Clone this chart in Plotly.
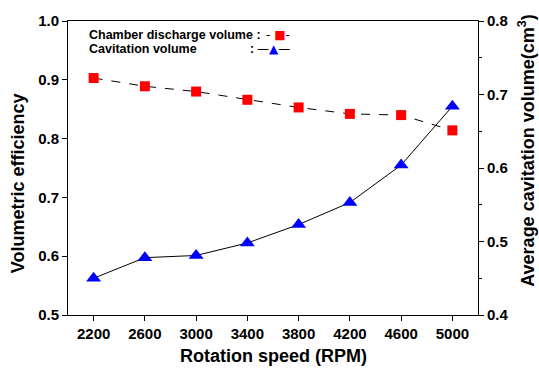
import plotly.graph_objects as go

rpm = [2200, 2600, 3000, 3400, 3800, 4200, 4600, 5000]
vol_eff = [0.903, 0.889, 0.880, 0.866, 0.853, 0.842, 0.840, 0.814]
cav_vol = [0.450, 0.478, 0.481, 0.498, 0.523, 0.553, 0.604, 0.684]
x_ticks = rpm

FONT = "Liberation Sans, Arial, sans-serif"

fig = go.Figure()
fig.add_trace(go.Scatter(
    x=rpm, y=vol_eff, mode="lines+markers", name="Chamber discharge volume",
    line=dict(color="black", width=1, dash="dash"),
    marker=dict(symbol="square", size=10, color="#ff0000", line=dict(width=0)),
    yaxis="y"))
fig.add_trace(go.Scatter(
    x=rpm, y=cav_vol, mode="lines+markers", name="Cavitation volume",
    line=dict(color="black", width=1),
    marker=dict(symbol="triangle-up", size=13, color="#0000ff", line=dict(width=0)),
    yaxis="y2"))

axis_common = dict(showgrid=False, zeroline=False, showline=True, linecolor="black",
                   linewidth=1, ticks="outside", ticklen=5, tickcolor="black",
                   tickfont=dict(family=FONT, size=15, color="black", weight="bold"))

fig.update_layout(
    width=539, height=369,
    margin=dict(l=68, r=61, t=16, b=54),
    plot_bgcolor="white", paper_bgcolor="white",
    showlegend=False,
    font=dict(family=FONT, color="black"),
    xaxis=dict(range=[2000, 5200], tickvals=x_ticks, mirror=True, **axis_common),
    yaxis=dict(range=[0.5, 1.0], dtick=0.1, tickformat=".1f", **axis_common),
    yaxis2=dict(range=[0.4, 0.8], dtick=0.1, tickformat=".1f", overlaying="y", side="right",
                minor=dict(dtick=0.05, ticks="outside", ticklen=3, tickcolor="black"),
                **axis_common),
)

title_font = dict(family=FONT, size=18, color="black")
fig.add_annotation(xref="paper", yref="paper", x=0.5, y=-0.140, xanchor="center", yanchor="middle",
                   text="<b>Rotation speed (RPM)</b>", showarrow=False, font=title_font)
fig.add_annotation(xref="paper", yref="paper", x=-0.122, y=0.448, xanchor="center", yanchor="middle",
                   textangle=-90, text="<b>Volumetric efficiency</b>", showarrow=False, font=title_font)
fig.add_annotation(xref="paper", yref="paper", x=1.118, y=0.56, xanchor="center", yanchor="middle",
                   textangle=-90, text="<b>Average cavitation volume(cm<sup>3</sup>)</b>",
                   showarrow=False, font=title_font)

lab_font = dict(family=FONT, size=12.5, color="black")
fig.add_annotation(xref="paper", yref="paper", x=0.046, y=0.952, xanchor="left", yanchor="middle",
                   text="<b>Chamber discharge volume :</b>", showarrow=False, font=lab_font)
fig.add_annotation(xref="paper", yref="paper", x=0.046, y=0.906, xanchor="left", yanchor="middle",
                   text="<b>Cavitation volume</b>", showarrow=False, font=lab_font)
fig.add_annotation(xref="paper", yref="paper", x=(252 - 68) / 410, y=0.906, xanchor="center", yanchor="middle",
                   text="<b>:</b>", showarrow=False, font=lab_font)
fig.add_annotation(xref="paper", yref="paper", x=(292 - 68) / 410, y=0.952, xanchor="right", yanchor="middle",
                   text="- <span style='color:#ff0000'>■</span>-", showarrow=False,
                   font=dict(family="DejaVu Sans", size=12, color="black"))
fig.add_annotation(xref="paper", yref="paper", x=(292 - 68) / 410, y=0.906, xanchor="right", yanchor="middle",
                   text="—<span style='color:#0000ff'>▲</span>—", showarrow=False,
                   font=dict(family="DejaVu Sans", size=12, color="black"))

fig.write_html("out.html")
